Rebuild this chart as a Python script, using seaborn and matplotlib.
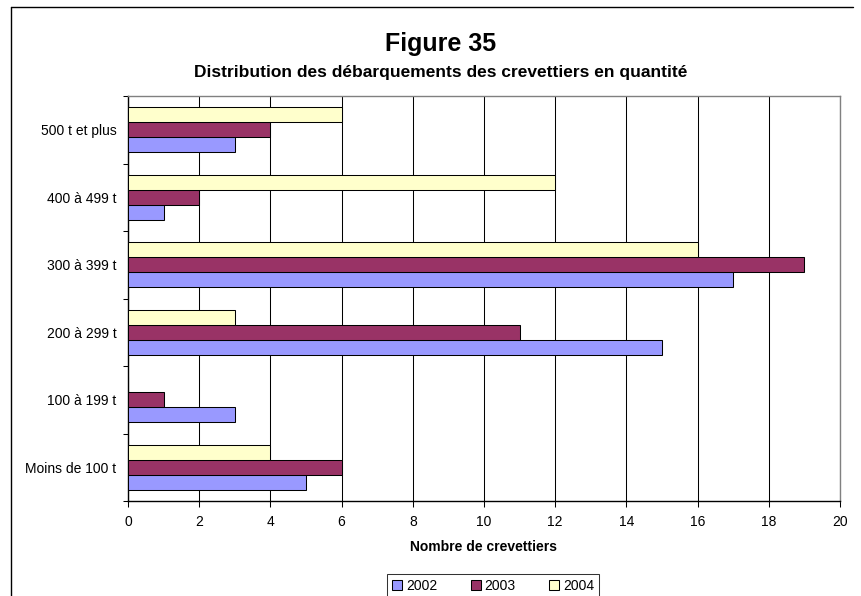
import numpy as np
import pandas as pd
import seaborn as sns
import matplotlib.pyplot as plt
from matplotlib.lines import Line2D

# Data
categories = ["Moins de 100 t", "100 à 199 t", "200 à 299 t",
              "300 à 399 t", "400 à 499 t", "500 t et plus"]
years = ["2002", "2003", "2004"]
v2002 = [5, 3, 15, 17, 1, 3]
v2003 = [6, 1, 11, 19, 2, 4]
v2004 = [4, 0, 3, 16, 12, 6]
colors = ["#9999FF", "#993366", "#FFFFCC"]

df = pd.DataFrame({
    "categorie": categories * 3,
    "annee": np.repeat(years, len(categories)),
    "valeur": v2002 + v2003 + v2004,
})

sns.set_style("white")
plt.rcParams["font.family"] = ["Liberation Sans", "DejaVu Sans"]
plt.rcParams["text.color"] = "black"
plt.rcParams["axes.labelcolor"] = "black"
plt.rcParams["xtick.color"] = "black"
plt.rcParams["ytick.color"] = "black"

W, H = 862, 596
fig = plt.figure(figsize=(W / 100, H / 100), dpi=100)
ax = fig.add_axes([128 / W, 1 - 501 / H, (840 - 128) / W, (501 - 96) / H])

sns.barplot(data=df, x="valeur", y="categorie", hue="annee", orient="h",
            order=categories, hue_order=years, palette=colors, saturation=1,
            width=0.667, edgecolor="black", linewidth=0.75, ax=ax, zorder=3)

ax.set_ylim(-0.5, len(categories) - 0.5)
ax.set_xlim(0, 20)
ax.set_xticks(np.arange(0, 21, 2))
ax.xaxis.grid(True, color="black", linewidth=0.75, zorder=0)
ax.set_axisbelow(True)

ax.tick_params(axis="x", direction="out", length=4, width=0.75, color="black",
               labelsize=10, pad=6, bottom=True)
ax.tick_params(axis="y", which="major", length=0, labelsize=10, pad=8.4)
ax.set_yticks(np.arange(-0.5, len(categories), 1), minor=True)
ax.tick_params(axis="y", which="minor", direction="out", length=3.6,
               width=0.75, color="black", left=True)

ax.set_xlabel("Nombre de crevettiers", fontsize=10, fontweight="bold", labelpad=8)
ax.set_ylabel("")

for side in ["left", "bottom"]:
    ax.spines[side].set_color("black")
    ax.spines[side].set_linewidth(1.0)
for side in ["top", "right"]:
    ax.spines[side].set_color("#808080")
    ax.spines[side].set_linewidth(1.0)

# legend at the bottom, its frame partly cut by the image edge
handles, labels = ax.get_legend_handles_labels()
ax.legend_.remove()
leg = fig.legend(handles, labels, loc="center",
                 bbox_to_anchor=(493 / W, 1 - 586 / H), ncol=3, fontsize=10,
                 frameon=True, fancybox=False, edgecolor="black",
                 handlelength=0.75, handleheight=0.75, handletextpad=0.25,
                 columnspacing=2.4, borderpad=0.35)
leg.get_frame().set_linewidth(0.75)

fig.text(441 / W, 1 - 51 / H, "Figure 35", ha="center", va="baseline",
         fontsize=18, fontweight="bold")
fig.text(441 / W, 1 - 77 / H,
         "Distribution des débarquements des crevettiers en quantité",
         ha="center", va="baseline", fontsize=12.5, fontweight="bold")

# outer chart frame (left and top edges visible)
fig.add_artist(Line2D([11 / W, 11 / W], [0, 1 - 7 / H], color="black",
                      linewidth=1.0, transform=fig.transFigure))
fig.add_artist(Line2D([11 / W, 853 / W], [1 - 7 / H, 1 - 7 / H], color="black",
                      linewidth=1.0, transform=fig.transFigure))

fig.savefig("out.png", dpi=100)
